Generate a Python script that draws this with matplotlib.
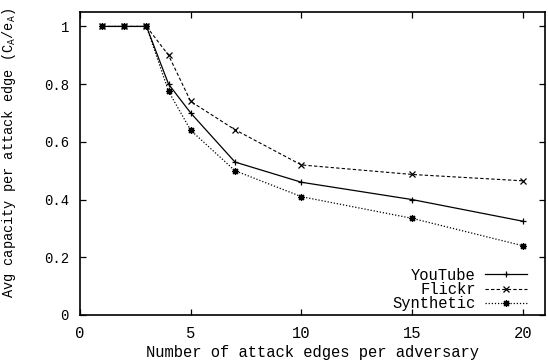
import matplotlib
matplotlib.use("Agg")
import matplotlib.pyplot as plt

x = [1, 2, 3, 4, 5, 7, 10, 15, 20]
youtube = [1, 1, 1, 0.80, 0.70, 0.53, 0.46, 0.40, 0.325]
flickr = [1, 1, 1, 0.90, 0.74, 0.642, 0.52, 0.487, 0.465]
synthetic = [1, 1, 1, 0.775, 0.64, 0.50, 0.41, 0.335, 0.24]
xticks = [0, 5, 10, 15, 20]
yticks = [0, 0.2, 0.4, 0.6, 0.8, 1]
yticklabels = ["0", "0.2", "0.4", "0.6", "0.8", "1"]

plt.rcParams['font.family'] = ['Liberation Mono', 'DejaVu Sans Mono']
plt.rcParams['mathtext.fontset'] = 'custom'
plt.rcParams['mathtext.rm'] = 'Liberation Mono'
plt.rcParams['font.size'] = 11.2

fig = plt.figure(figsize=(5.48, 3.60), dpi=100)
ax = fig.add_axes([80/548, 1 - 315/360, (545-80)/548, (315-12)/360])

ax.plot(x, youtube, color='black', linestyle='-', linewidth=0.9, marker='+', markersize=5, markeredgewidth=0.9, label='YouTube')
ax.plot(x, flickr, color='black', linestyle=(0, (3, 2)), linewidth=0.8, marker='x', markersize=4.5, markeredgewidth=0.9, label='Flickr')
ax.plot(x, synthetic, color='black', linestyle=(0, (1, 1.5)), linewidth=0.9, marker=(8, 2, 0), markersize=5, markeredgewidth=0.9, label='Synthetic')

ax.set_xlim(0, 21)
ax.set_ylim(0, 1.05)
ax.set_xticks(xticks)
ax.set_yticks(yticks)
ax.set_yticklabels(yticklabels)
ax.tick_params(direction='in', top=True, right=True, length=4, width=0.9, pad=8)
ax.tick_params(axis='y', labelsize=10)
for s in ax.spines.values():
    s.set_linewidth(1.2)

ax.set_xlabel('Number of attack edges per adversary')
ax.xaxis.set_label_coords(0.5, -0.1)
ax.set_ylabel(r'Avg capacity per attack edge (C$_\mathregular{A}$/e$_\mathregular{A}$)', fontsize=9.8)
ax.yaxis.set_label_coords(-0.133, 0.535)

leg = ax.legend(loc='lower right', frameon=False, markerfirst=False, handlelength=2.7,
                handletextpad=0.6, labelspacing=-0.05, borderaxespad=0, borderpad=0,
                bbox_to_anchor=(1 - 0.0387, 0.012))
for t in leg.get_texts():
    t.set_ha('right')
leg._legend_box.align = 'right'

fig.savefig('out.png', dpi=100)
